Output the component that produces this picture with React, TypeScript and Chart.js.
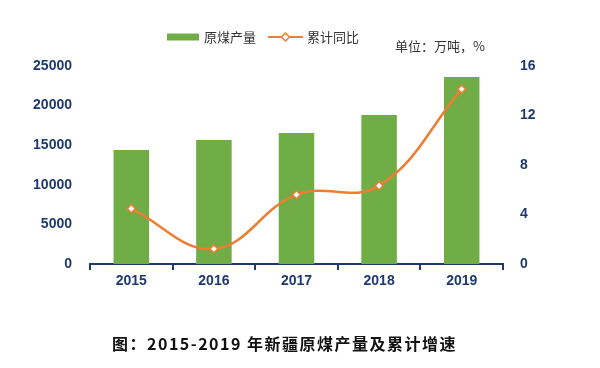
import React, { useEffect, useRef } from "react";
import { Chart, registerables } from "chart.js";

Chart.register(...registerables);

const years = ["2015", "2016", "2017", "2018", "2019"];
const output = [14400, 15650, 16550, 18800, 23600];
const growth = [4.47, 1.22, 5.6, 6.33, 14.13];
const leftTicks = [0, 5000, 10000, 15000, 20000, 25000];
const rightTicks = [0, 4, 8, 12, 16];

const NAVY = "#1F3A6E";
const GREEN = "#70AD47";
const ORANGE = "#ED7D31";
const CJK = "'Noto Sans CJK SC', 'Liberation Sans', sans-serif";
const TICK_FONT = { family: "'Liberation Sans', Arial", size: 14, weight: "bold" as const };

const legendPlugin = {
  id: "customLegend",
  afterDraw(chart: any) {
    const ctx = chart.ctx;
    const ds = chart.data.datasets;
    ctx.save();
    ctx.font = `13px ${CJK}`;
    ctx.textBaseline = "middle";
    const y = 37;
    ctx.fillStyle = ds[1].backgroundColor;
    ctx.fillRect(167, y - 3.5, 32, 7);
    ctx.fillStyle = "#333";
    ctx.fillText(ds[1].label, 204, y);
    ctx.strokeStyle = ds[0].borderColor;
    ctx.lineWidth = 2;
    ctx.beginPath();
    ctx.moveTo(268, y);
    ctx.lineTo(303, y);
    ctx.stroke();
    ctx.fillStyle = "#fff";
    ctx.lineWidth = 1.5;
    ctx.beginPath();
    ctx.moveTo(285.5, y - 4);
    ctx.lineTo(289.5, y);
    ctx.lineTo(285.5, y + 4);
    ctx.lineTo(281.5, y);
    ctx.closePath();
    ctx.fill();
    ctx.stroke();
    ctx.fillStyle = "#333";
    ctx.fillText(ds[0].label, 307, y);
    ctx.restore();
  },
};

export default function App() {
  const ref = useRef<HTMLCanvasElement>(null);
  useEffect(() => {
    document.body.style.margin = "0";
    const chart = new Chart(ref.current!, {
      type: "bar",
      data: {
        labels: years,
        datasets: [
          {
            type: "line",
            label: "累计同比",
            data: growth,
            yAxisID: "y2",
            borderColor: ORANGE,
            backgroundColor: ORANGE,
            borderWidth: 2.5,
            tension: 0.4,
            pointStyle: "rectRot",
            pointRadius: 4,
            pointBackgroundColor: "#fff",
            pointBorderColor: ORANGE,
            pointBorderWidth: 1.5,
            order: 0,
          } as any,
          {
            type: "bar",
            label: "原煤产量",
            data: output,
            yAxisID: "y",
            backgroundColor: GREEN,
            barPercentage: 0.43,
            categoryPercentage: 1,
            order: 1,
          },
        ],
      },
      options: {
        responsive: false,
        animation: false,
        layout: { padding: { top: 66, left: 0, right: 0, bottom: 0 } },
        plugins: {
          legend: { display: false },
          tooltip: { enabled: false },
        },
        scales: {
          x: {
            offset: true,
            grid: {
              offset: true,
              drawOnChartArea: false,
              drawTicks: true,
              tickLength: 6,
              color: NAVY,
              lineWidth: 2,
            },
            border: { display: true, color: NAVY, width: 2 },
            ticks: { color: NAVY, font: TICK_FONT, padding: 3 },
            afterFit(s: any) {
              s.height = 104;
            },
          },
          y: {
            position: "left",
            min: 0,
            max: 25000,
            afterBuildTicks(s: any) {
              s.ticks = leftTicks.map((v) => ({ value: v }));
            },
            grid: { display: false },
            border: { display: false },
            ticks: {
              color: NAVY,
              padding: 10,
              font: TICK_FONT,
              callback: (v: any) => String(v),
            },
            afterFit(s: any) {
              s.width = 90;
            },
          },
          y2: {
            position: "right",
            min: 0,
            max: 16,
            afterBuildTicks(s: any) {
              s.ticks = rightTicks.map((v) => ({ value: v }));
            },
            grid: { display: false },
            border: { display: false },
            ticks: {
              color: NAVY,
              padding: 9,
              font: TICK_FONT,
              callback: (v: any) => String(v),
            },
            afterFit(s: any) {
              s.width = 97;
            },
          },
        },
      },
      plugins: [legendPlugin],
    });
    return () => chart.destroy();
  }, []);
  return (
    <div style={{ position: "relative", width: 600, height: 368, background: "#fff" }}>
      <canvas ref={ref} width={600} height={368} style={{ display: "block" }} />
      <div
        style={{
          position: "absolute",
          left: 395,
          top: 37,
          fontFamily: CJK,
          fontSize: 13,
          color: "#333",
          lineHeight: "18px",
          whiteSpace: "nowrap",
        }}
      >
        单位：万吨，%
      </div>
      <div
        style={{
          position: "absolute",
          left: 112,
          top: 331,
          fontFamily: CJK,
          fontSize: 16,
          fontWeight: "bold",
          letterSpacing: "1.5px",
          color: "#111",
          lineHeight: "24px",
          whiteSpace: "nowrap",
        }}
      >
        图：2015-2019 年新疆原煤产量及累计增速
      </div>
    </div>
  );
}
